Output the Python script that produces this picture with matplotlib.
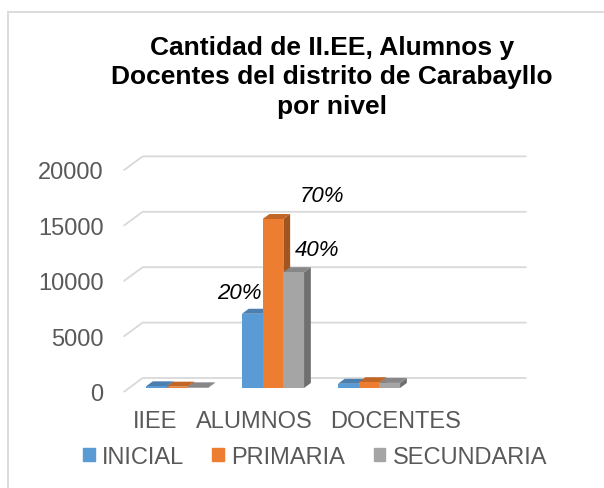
import numpy as np
import matplotlib
matplotlib.use("Agg")
import matplotlib.pyplot as plt
from matplotlib.patches import Polygon, Patch, Rectangle
from matplotlib.colors import to_rgb

plt.rcParams['font.family'] = ['Liberation Sans', 'DejaVu Sans']

# data
categories = ['IIEE', 'ALUMNOS', 'DOCENTES']
series = ['INICIAL', 'PRIMARIA', 'SECUNDARIA']
inicial = [150, 6700, 380]
primaria = [120, 15250, 520]
secundaria = [60, 10450, 460]
values = [inicial, primaria, secundaria]
yticks = [0, 5000, 10000, 15000, 20000]
# labels shown on the ALUMNOS bars
bar_labels = ['20%', '70%', '40%']

colors = ['#5B9BD5', '#ED7D31', '#A5A5A5']
label_offsets = [(-9, 15), (35, 17), (17, 16)]  # points, from bar top

# ---- layout (1 category = 96 px, 5000 = 55.4 px) ----
px_c = 1 / 96.0
px_v = 5000 / 55.4
n_slots = 4
w = 20.7 * px_c                       # bar width
front = (-5.4 * px_c, -4 * px_v)      # front plane relative to bar front
back = (13.6 * px_c, 10 * px_v)       # back wall relative to bar front
bdep = (6.8 * px_c, 5 * px_v)         # bar depth

fig = plt.figure(figsize=(6.04, 4.89), dpi=100)
ax = fig.add_axes([0, 0, 1, 1])
ax.set_xlim(1 - 273 * px_c, 1 + (604 - 273) * px_c)
ax.set_ylim((389 - 489) * px_v, 389 * px_v)
ax.axis('off')

grid_c = '#D9D9D9'
x0, x1 = -0.5, n_slots - 0.5
for v in yticks:
    ax.plot([x0 + front[0], x0 + back[0], x1 + back[0]],
            [v + front[1], v + back[1], v + back[1]],
            color=grid_c, lw=1.3, solid_capstyle='butt', zorder=1)
    ax.text(x0 + front[0] - 20 * px_c, v + front[1] - 2 * px_v, str(v),
            ha='right', va='center', fontsize=17, color='#595959')


def shade(c, f):
    r, g, b = to_rgb(c)
    return (r * f, g * f, b * f)


z = 2
for i in range(len(categories)):
    for s in range(len(series)):
        v = values[s][i]
        xc = i + (s - 1) * w
        l, r = xc - w / 2, xc + w / 2
        dx, dy = bdep
        side = Polygon([(r, 0), (r, v), (r + dx, v + dy), (r + dx, dy)],
                       closed=True, fc=shade(colors[s], 0.68), ec='none', zorder=z)
        top = Polygon([(l, v), (r, v), (r + dx, v + dy), (l + dx, v + dy)],
                      closed=True, fc=shade(colors[s], 0.82), ec='none', zorder=z)
        ax.add_patch(side)
        ax.add_patch(top)
        ax.bar(xc, v, width=w, color=colors[s], zorder=z + 0.5)
        z += 1

# data labels on ALUMNOS
for s in range(len(series)):
    xc = 1 + (s - 1) * w
    ax.annotate(bar_labels[s], xy=(xc, values[s][1]), xytext=label_offsets[s],
                textcoords='offset points', ha='center', va='center',
                fontsize=16, style='italic', color='black', zorder=50)

# category labels (as Excel placed them)
xlab_px = [155.5, 254, 396]
for name, xp in zip(categories, xlab_px):
    fig.text(xp / 604, 1 - 421.7 / 489, name, ha='center', va='center',
             fontsize=17, color='#595959')

fig.text(332 / 604, 1 - 35.5 / 489,
         'Cantidad de II.EE, Alumnos y\nDocentes del distrito de Carabayllo\npor nivel',
         ha='center', va='top', fontsize=19, fontweight='bold',
         color='black', linespacing=1.29)

handles = [Patch(color=c) for c in colors]
leg = fig.legend(handles, series, loc='center', bbox_to_anchor=(315 / 604, 1 - 458 / 489),
                 ncol=3, frameon=False, fontsize=17, handlelength=0.5, handleheight=0.5,
                 handletextpad=0.3, columnspacing=1.2, borderpad=0)
for t in leg.get_texts():
    t.set_color('#595959')

fig.patches.append(Rectangle((8 / 604, -0.1), 1.2, (489 - 13) / 489 + 0.1,
                             transform=fig.transFigure, fill=False,
                             ec='#D9D9D9', lw=1.3))

fig.savefig('out.png', dpi=100)
